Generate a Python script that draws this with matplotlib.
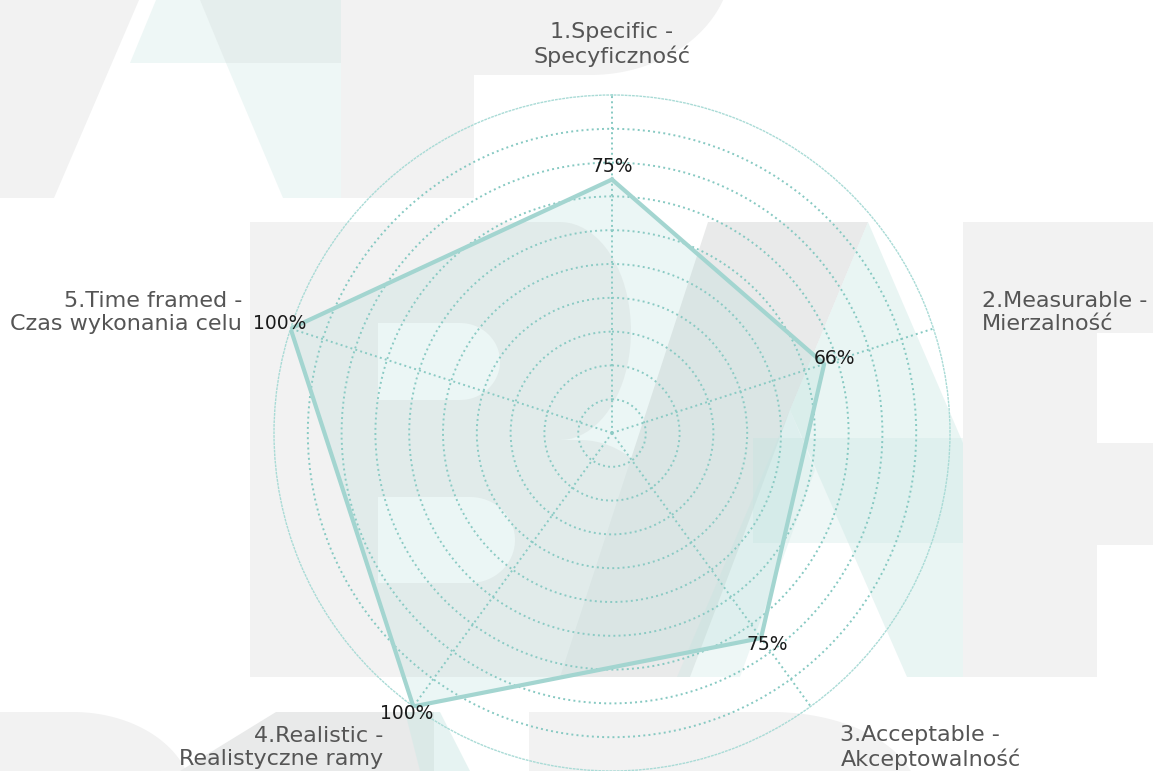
import numpy as np
import matplotlib.pyplot as plt
from matplotlib.patches import Polygon

# SMART goal radar data
categories = ['1.Specific -\nSpecyficzność', '2.Measurable -\nMierzalność',
              '3.Acceptable -\nAkceptowalność', '4.Realistic -\nRealistyczne ramy',
              '5.Time framed -\nCzas wykonania celu']
values = [75, 66, 75, 100, 100]
value_labels = ['75%', '66%', '75%', '100%', '100%']

W, H = 1153, 771
fig = plt.figure(figsize=(W / 100, H / 100), dpi=100)

# background watermark, drawn in pixel coordinates (y down)
bg = fig.add_axes([0, 0, 1, 1])
bg.set_xlim(0, W)
bg.set_ylim(H, 0)
bg.axis('off')

GRAY = '#f2f2f2'
DARK = '#e9eaea'
TEAL = '#cfe9e6'


def poly(pts, color, alpha=1.0):
    bg.add_patch(Polygon(pts, closed=True, fc=color, ec='none', alpha=alpha))


def arc(cx, cy, a, b, t0, t1, n=40):
    t = np.radians(np.linspace(t0, t1, n))
    return list(zip(cx + a * np.cos(t), cy + b * np.sin(t)))


# top-left "A"
poly([(0, 0), (474, 0), (474, 198), (0, 198)], GRAY)
poly([(139, 0), (200, 0), (226, 63), (341, 63), (341, 198), (54, 198)], 'white')
poly([(156, 0), (341, 0), (341, 198), (283, 198), (226, 63), (130, 63)], TEAL, 0.35)
# top blob
poly([(474, 0)] + arc(590, -40, 142, 115, 20.3, 90) + [(474, 75)], GRAY)

# "B" block
poly([(250, 222), (560, 222)] + arc(560, 331, 71, 109, -90, 90)
     + arc(580, 560, 97, 120, -90, 0) + [(677, 677), (250, 677)], GRAY)
poly([(378, 323), (460, 323)] + arc(460, 361.5, 40, 38.5, -90, 90) + [(378, 400)], 'white')
poly([(378, 497), (470, 497)] + arc(470, 540, 45, 43, -90, 90) + [(378, 583)], 'white')

# right "A"
poly([(708, 222), (868, 222), (790, 410), (740, 545), (690, 677), (560, 677)], DARK)
poly([(868, 222), (963, 443), (963, 677), (907, 677), (790, 410)], TEAL, 0.45)
poly([(753, 438), (963, 438), (963, 543), (753, 543)], TEAL, 0.35)
poly([(790, 410), (815, 470), (740, 677), (677, 677)], TEAL, 0.35)

# "F"
poly([(963, 222), (1153, 222), (1153, 333), (1097, 333), (1097, 443), (1153, 443),
      (1153, 545), (1097, 545), (1097, 677), (963, 677)], GRAY)

# bottom row
poly([(0, 712), (73, 712)] + arc(73, 800, 120, 88, -90, -19.3) + [(0, 771)], GRAY)
poly([(276, 712), (434, 712), (434, 771), (180, 771)], DARK)
poly([(405, 712), (440, 712), (470, 771), (420, 771)], TEAL, 0.5)
poly([(529, 712), (772, 712)] + arc(772, 800, 147, 88, -90, -19.3) + [(529, 771)], GRAY)

# radar chart
cx, cy, R = 612, 433, 338
ax = fig.add_axes([(cx - R) / W, (H - cy - R) / H, 2 * R / W, 2 * R / H], projection='polar')
ax.set_facecolor('none')
ax.set_theta_zero_location('N')
ax.set_theta_direction(-1)

angles = np.linspace(0, 2 * np.pi, len(values), endpoint=False)
ax.set_ylim(0, 100)
ax.set_yticks(range(10, 100, 10))
ax.set_yticklabels([])
ax.set_xticks(angles)
ax.set_xticklabels([])
ax.tick_params(length=0)
ax.grid(color='#86c9c2', linestyle=':', linewidth=1.4)
ax.spines['polar'].set(color='#a9dbd6', linestyle=':', linewidth=1.0)

a_closed = np.r_[angles, angles[0]]
v_closed = values + values[:1]
ax.fill(a_closed, v_closed, color='#9fd3ce', alpha=0.2, zorder=2)
ax.plot(a_closed, v_closed, color='#a3d5d0', linewidth=3, zorder=3)

for ang, v, lbl in zip(angles, values, value_labels):
    dx = 11 * np.sin(ang) * 0.72
    dy = (11 * np.cos(ang) + 2) * 0.72
    ax.annotate(lbl, (ang, v), xytext=(dx, dy), textcoords='offset points',
                ha='center', va='center', fontsize=13.5, color='#1a1a1a', zorder=4)

for ang, cat in zip(angles, categories):
    s = np.sin(ang)
    ha = 'center' if abs(s) < 0.1 else ('left' if s > 0 else 'right')
    ax.text(ang, 115, cat, ha=ha, va='center', fontsize=16, color='#555555')

fig.savefig('out.png', dpi=100)
